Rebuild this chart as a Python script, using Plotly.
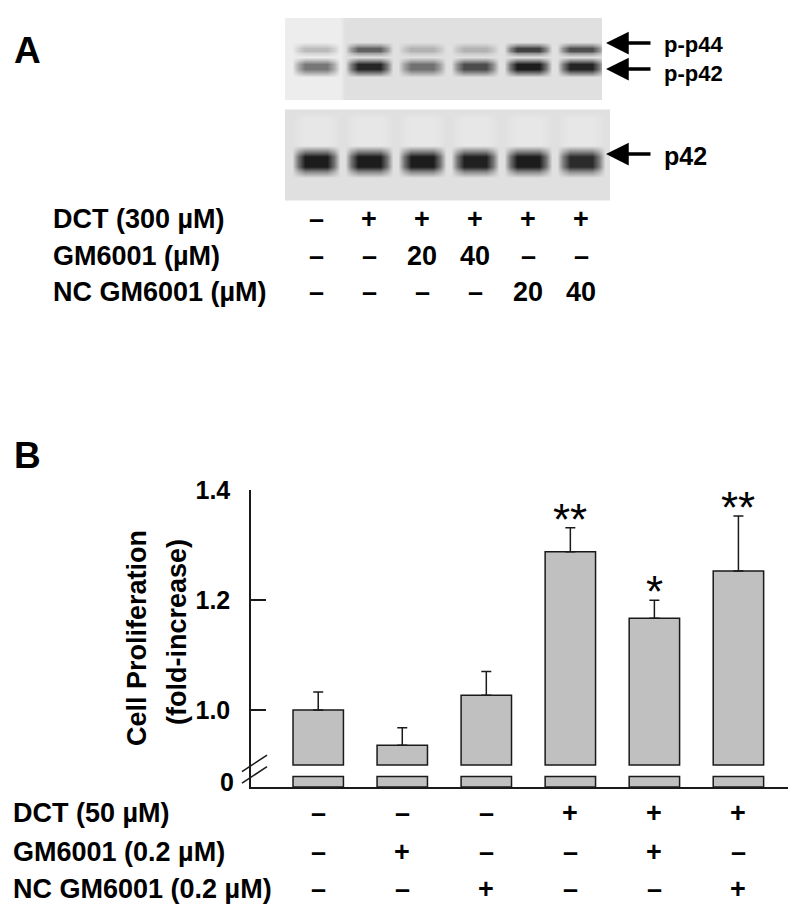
import plotly.graph_objects as go

# ---- Panel A: western blot (band darkness 0..1) ----
LANES = [1, 2, 3, 4, 5, 6]
P_P44 = [0.24, 0.65, 0.28, 0.28, 0.80, 0.74]
P_P42 = [0.55, 0.92, 0.58, 0.75, 0.97, 0.93]
P42_TOTAL = [0.97, 0.97, 0.97, 0.95, 0.97, 0.90]
TOP_BG = [0.01, 0.07, 0.07, 0.07, 0.07, 0.07]
BOT_BG = [0.07, 0.07, 0.07, 0.07, 0.07, 0.07]
BOT_LANE = [0.035, 0.035, 0.035, 0.035, 0.035, 0.035]

A_ROW_LABELS = ["DCT (300 µM)", "GM6001 (µM)", "NC GM6001 (µM)"]
A_MARKS = [
    ["–", "+", "+", "+", "+", "+"],
    ["–", "–", "20", "40", "–", "–"],
    ["–", "–", "–", "–", "20", "40"],
]
BAND_LABELS = ["p-p44", "p-p42", "p42"]

# ---- Panel B: cell proliferation ----
GROUPS = [0, 1, 2, 3, 4, 5]
PROLIF = [1.000, 0.936, 1.027, 1.288, 1.167, 1.253]
PROLIF_ERR = [0.033, 0.032, 0.043, 0.044, 0.033, 0.100]
SIGNIF = ["", "", "", "**", "*", "**"]
Y_TICKS = [1.0, 1.2, 1.4]
Y_TICK_TEXT = ["1.0", "1.2", "1.4"]
B_ROW_LABELS = ["DCT (50 µM)", "GM6001 (0.2 µM)", "NC GM6001 (0.2 µM)"]
B_MARKS = [
    ["–", "–", "–", "+", "+", "+"],
    ["–", "+", "–", "–", "+", "–"],
    ["–", "–", "+", "–", "–", "+"],
]

W, H = 800, 913
FONT = "Liberation Sans, Arial, sans-serif"
INK = "#1a1a1a"
AXIS_BOTTOM, SEG_TOP, BAR_BASE = 0.86, 0.879, 0.90


def px(x):
    return x / W


def py(y):
    return 1 - y / H


# soft band profile across a lane (offset from lane centre, weight)
X_PROFILE = [(-0.46, 0.0), (-0.34, 0.55), (-0.2, 1.0), (0.2, 1.0), (0.34, 0.55), (0.46, 0.0)]


def blot(rows, lane_bg, x0, x1):
    """rows: list of (y, band values or None, weight)."""
    xs = [x0] + [c + dx for c in LANES for dx, _ in X_PROFILE] + [x1]
    ys, z = [], []
    for y, band, wy in rows:
        line = [lane_bg[0]]
        for i in range(len(LANES)):
            base = lane_bg[i]
            v = band[i] if band else base
            line += [base + (v - base) * wx * wy for _, wx in X_PROFILE]
        line.append(lane_bg[-1])
        ys.append(y)
        z.append(line)
    return go.Heatmap(x=xs, y=ys, z=z, zmin=0, zmax=1, zsmooth="best",
                      colorscale=[[0, "#efefef"], [1, "#151515"]], showscale=False,
                      hoverinfo="skip", xaxis="x2", yaxis="y2")


fig = go.Figure()

# top blot: phospho-p44 / phospho-p42
fig.add_trace(blot([
    (18, None, 0), (42, None, 0),
    (45.5, P_P44, 0.6), (48, P_P44, 1), (50.5, P_P44, 1), (53, P_P44, 0.5),
    (57, None, 0),
    (61, P_P42, 0.55), (64, P_P42, 1), (69, P_P42, 1), (72.5, P_P42, 0.5),
    (77, None, 0), (97, None, 0), (99, None, 0),
], TOP_BG, 0.415, 6.42))

# bottom blot: total p42
fig.add_trace(blot([
    (110, None, 0), (111, None, 0),
    (118, BOT_LANE, 1), (145, BOT_LANE, 1),
    (151, P42_TOTAL, 0.5), (156, P42_TOTAL, 1), (166, P42_TOTAL, 1), (171, P42_TOTAL, 0.45),
    (177, None, 0), (200, None, 0), (201, None, 0),
], BOT_BG, 0.30, 6.60))

# panel B bars: upper part above the axis break
fig.add_trace(go.Bar(
    x=GROUPS, y=[v - BAR_BASE for v in PROLIF], base=BAR_BASE, width=0.6,
    marker={"color": "#c0c0c0", "line": {"color": INK, "width": 1.5}},
    error_y={"type": "data", "symmetric": False, "array": PROLIF_ERR,
             "arrayminus": [0] * len(PROLIF), "color": INK, "thickness": 1.5, "width": 5},
    hovertemplate="%{customdata:.3f}<extra></extra>", customdata=PROLIF,
))
# stub of each bar below the break
fig.add_trace(go.Bar(
    x=GROUPS, y=[SEG_TOP - AXIS_BOTTOM] * len(GROUPS), base=AXIS_BOTTOM, width=0.6,
    marker={"color": "#c0c0c0", "line": {"color": INK, "width": 1.5}},
    hoverinfo="skip",
))

ann = []


def text(x, y, s, size=27, xref="paper", yref="paper", xanchor="left", **kw):
    ann.append(dict(x=x, y=y, xref=xref, yref=yref, text=s, showarrow=False,
                    xanchor=xanchor, yanchor=kw.pop("yanchor", "middle"),
                    font={"family": FONT, "size": size, "color": "black",
                          "weight": kw.pop("weight", "bold")}, **kw))


# panel letters
text(px(12), py(50), "A", size=37)
text(px(12), py(455), "B", size=37)

# panel A row labels and treatment marks
for r, (label, y) in enumerate(zip(A_ROW_LABELS, [219, 256, 292])):
    text(px(51), py(y), label)
    for lane, mark in zip(LANES, A_MARKS[r]):
        text(lane, py(y), mark, xref="x2", xanchor="center")

# arrows and band names
for y in [43, 69, 154]:
    ann.append(dict(x=px(606), y=py(y), xref="paper", yref="paper", ax=46, ay=0,
                    text="", showarrow=True, arrowhead=2, arrowsize=1.3,
                    arrowwidth=3.5, arrowcolor="black"))
text(px(662), py(59), "<br>".join(BAND_LABELS[:2]), size=22)
text(px(662), py(156), BAND_LABELS[2], size=25)

# panel B row labels and marks
for r, (label, y) in enumerate(zip(B_ROW_LABELS, [813, 852, 889])):
    text(px(11), py(y), label)
    for g, mark in zip(GROUPS, B_MARKS[r]):
        text(g, py(y), mark, xref="x", xanchor="center")

# significance stars
for g, v, e, s in zip(GROUPS, PROLIF, PROLIF_ERR, SIGNIF):
    if s:
        text(g, v + e, s, size=44, xref="x", yref="y", xanchor="center",
             yanchor="bottom", yshift=-18, weight="normal")

# y title and broken-axis zero label
text(px(137), py(638), "Cell Proliferation", xanchor="center", textangle=-90)
text(px(177), py(632), "(fold-increase)", xanchor="center", textangle=-90)
text(px(236), (SEG_TOP + AXIS_BOTTOM) / 2, "0", size=25, yref="y", xanchor="right")

# axis break marks
shapes = []
for yv in [BAR_BASE, SEG_TOP]:
    shapes.append(dict(type="line", xref="paper", yref="y",
                       x0=px(242), x1=px(267), y0=yv - 0.012, y1=yv + 0.018,
                       line={"color": INK, "width": 1.5}))

fig.update_layout(
    width=W, height=H,
    margin={"l": 0, "r": 0, "t": 0, "b": 0, "autoexpand": False},
    paper_bgcolor="white", plot_bgcolor="white",
    showlegend=False, barmode="overlay",
    font={"family": FONT},
    xaxis={"domain": [px(251), px(788)], "range": [-0.80, 5.59], "showline": True,
           "linecolor": INK, "linewidth": 1.5, "showticklabels": False, "ticks": "",
           "showgrid": False, "zeroline": False, "fixedrange": True, "automargin": False},
    yaxis={"domain": [py(787), py(490)], "range": [AXIS_BOTTOM, 1.4005], "showline": True,
           "linecolor": INK, "linewidth": 1.5, "tickvals": Y_TICKS, "ticktext": Y_TICK_TEXT,
           "ticks": "inside", "ticklen": 15, "tickwidth": 1.5, "tickcolor": INK,
           "ticklabelstandoff": 14, "automargin": False,
           "tickfont": {"family": FONT, "size": 25, "color": "black", "weight": "bold"},
           "showgrid": False, "zeroline": False, "fixedrange": True},
    xaxis2={"domain": [px(285), px(610)], "range": [0.415, 6.547], "visible": False,
            "anchor": "y2", "fixedrange": True, "automargin": False},
    yaxis2={"domain": [py(201), py(18)], "range": [201, 18], "visible": False,
            "anchor": "x2", "fixedrange": True, "automargin": False},
    annotations=ann, shapes=shapes,
)

# pin the 800x913 figure to the window's top-left corner
pin = (
    "document.body.style.margin='0';"
    "document.body.style.overflow='hidden';"
    "var d=document.getElementById('{plot_id}');"
    "d.style.position='fixed';d.style.top='0';d.style.left='0';"
)
fig.write_html("out.html", post_script=pin, config={"displayModeBar": False})
